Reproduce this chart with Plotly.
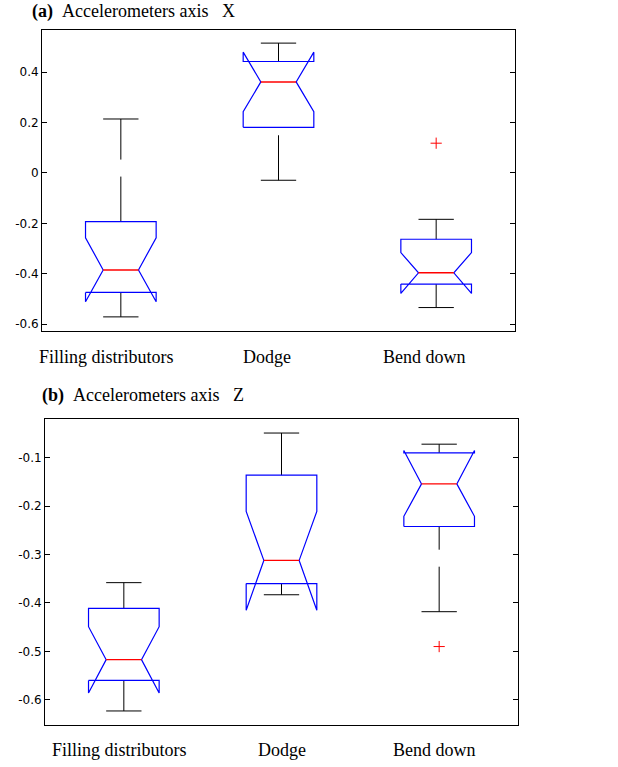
import plotly.graph_objects as go

# ---------------- data ----------------
categories = ["Filling distributors", "Dodge", "Bend down"]
positions = [1, 2, 3]

# Panel (a): accelerometers axis X
a_whisk_lo = [-0.571, -0.029, -0.534]
a_q1 = [-0.474, 0.181, -0.441]
a_median = [-0.385, 0.361, -0.396]
a_q3 = [-0.193, 0.442, -0.263]
a_whisk_hi = [0.214, 0.515, -0.184]
a_notch_lo = [-0.511, 0.243, -0.478]
a_notch_hi = [-0.257, 0.479, -0.316]
a_outliers = [[], [], [0.118]]

# Panel (b): accelerometers axis Z
b_whisk_lo = [-0.623, -0.383, -0.418]
b_q1 = [-0.560, -0.360, -0.242]
b_median = [-0.517, -0.312, -0.154]
b_q3 = [-0.411, -0.136, -0.090]
b_whisk_hi = [-0.358, -0.049, -0.072]
b_notch_lo = [-0.586, -0.415, -0.221]
b_notch_hi = [-0.449, -0.211, -0.085]
b_outliers = [[], [], [-0.490]]

a_yticks = [-0.6, -0.4, -0.2, 0, 0.2, 0.4]
a_yticktext = ["-0.6", "-0.4", "-0.2", "0", "0.2", "0.4"]
b_yticks = [-0.6, -0.5, -0.4, -0.3, -0.2, -0.1]
b_yticktext = ["-0.6", "-0.5", "-0.4", "-0.3", "-0.2", "-0.1"]

# ---------------- style ----------------
HALF_W = 0.224
NOTCH_IN = 0.112
CAP_HALF = 0.112
BLUE = "#0000ff"
RED = "#ff0000"
BLACK = "#000000"
W, H = 618, 767


def px(v):
    return v / W


def py(v):
    return 1 - v / H


fig = go.Figure()


def add_panel(xa, ya, wlo, q1, med, q3, whi, nlo, nhi, outl):
    for i, x in enumerate(positions):
        L, R = x - HALF_W, x + HALF_W
        # whiskers (drawn bottom to top, dashed)
        for y0, y1 in ((wlo[i], q1[i]), (q3[i], whi[i])):
            fig.add_trace(go.Scatter(
                x=[x, x], y=[y0, y1], mode="lines", xaxis=xa, yaxis=ya,
                line=dict(color=BLACK, width=1, dash="45px,17px"),
                hoverinfo="skip", showlegend=False))
        # caps
        for y in (wlo[i], whi[i]):
            fig.add_trace(go.Scatter(
                x=[x - CAP_HALF, x + CAP_HALF], y=[y, y], mode="lines",
                xaxis=xa, yaxis=ya, line=dict(color=BLACK, width=1),
                hoverinfo="skip", showlegend=False))
        # notched box outline
        bx = [L, L, L + NOTCH_IN, L, L, R, R, R - NOTCH_IN, R, R, L]
        by = [q1[i], nlo[i], med[i], nhi[i], q3[i], q3[i], nhi[i], med[i], nlo[i], q1[i], q1[i]]
        fig.add_trace(go.Scatter(
            x=bx, y=by, mode="lines", xaxis=xa, yaxis=ya,
            line=dict(color=BLUE, width=1.2),
            hoverinfo="skip", showlegend=False))
        # median
        fig.add_trace(go.Scatter(
            x=[x - NOTCH_IN, x + NOTCH_IN], y=[med[i], med[i]], mode="lines",
            xaxis=xa, yaxis=ya, line=dict(color=RED, width=1.4),
            hoverinfo="skip", showlegend=False))
        # outliers
        if outl[i]:
            fig.add_trace(go.Scatter(
                x=[x] * len(outl[i]), y=outl[i], mode="markers",
                xaxis=xa, yaxis=ya,
                marker=dict(symbol="cross-thin", size=8,
                            line=dict(color=RED, width=1)),
                hoverinfo="skip", showlegend=False))


add_panel("x", "y", a_whisk_lo, a_q1, a_median, a_q3, a_whisk_hi,
          a_notch_lo, a_notch_hi, a_outliers)
add_panel("x2", "y2", b_whisk_lo, b_q1, b_median, b_q3, b_whisk_hi,
          b_notch_lo, b_notch_hi, b_outliers)

common_x = dict(range=[0.5, 3.5], showticklabels=False, ticks="",
                showgrid=False, zeroline=False, showline=True,
                linecolor=BLACK, linewidth=1, mirror=True)
common_y = dict(showgrid=False, zeroline=False, showline=True,
                linecolor=BLACK, linewidth=1, mirror="ticks",
                ticks="inside", ticklen=5, tickcolor=BLACK,
                tickfont=dict(family="DejaVu Sans", size=12, color=BLACK))

fig.update_layout(
    width=W, height=H,
    margin=dict(l=0, r=0, t=0, b=0),
    paper_bgcolor="white", plot_bgcolor="white",
    xaxis=dict(domain=[px(42), px(515)], anchor="y", **common_x),
    yaxis=dict(domain=[py(331), py(30)], anchor="x",
               range=[-0.627, 0.567], tickvals=a_yticks,
               ticktext=a_yticktext, **common_y),
    xaxis2=dict(domain=[px(45), px(518)], anchor="y2", **common_x),
    yaxis2=dict(domain=[py(725), py(419)], anchor="x2",
                range=[-0.652, -0.020], tickvals=b_yticks,
                ticktext=b_yticktext, **common_y),
)

SERIF = "Liberation Serif"
NB = "\u00a0"

fig.add_annotation(
    text="<b>(a)</b>" + NB * 2 + "Accelerometers axis" + NB * 3 + "X",
    xref="paper", yref="paper", x=px(30), y=py(11),
    xanchor="left", yanchor="middle", showarrow=False,
    font=dict(family=SERIF, size=18, color=BLACK))
fig.add_annotation(
    text="<b>(b)</b>" + NB * 2 + "Accelerometers axis" + NB * 3 + "Z",
    xref="paper", yref="paper", x=px(40), y=py(395),
    xanchor="left", yanchor="middle", showarrow=False,
    font=dict(family=SERIF, size=18, color=BLACK))

# category labels below each panel
a_label_shift = [-14, -12, -12]
b_label_shift = [-4, 0, -5]
for i, (x, name) in enumerate(zip(positions, categories)):
    fig.add_annotation(text=name, xref="x", yref="paper", x=x,
                       y=py(357), xshift=a_label_shift[i],
                       xanchor="center", yanchor="middle", showarrow=False,
                       font=dict(family=SERIF, size=18, color=BLACK))
    fig.add_annotation(text=name, xref="x2", yref="paper", x=x,
                       y=py(750), xshift=b_label_shift[i],
                       xanchor="center", yanchor="middle", showarrow=False,
                       font=dict(family=SERIF, size=18, color=BLACK))

fig.write_html("out.html",
               config={"displayModeBar": False},
               post_script="document.body.style.margin='0';")
